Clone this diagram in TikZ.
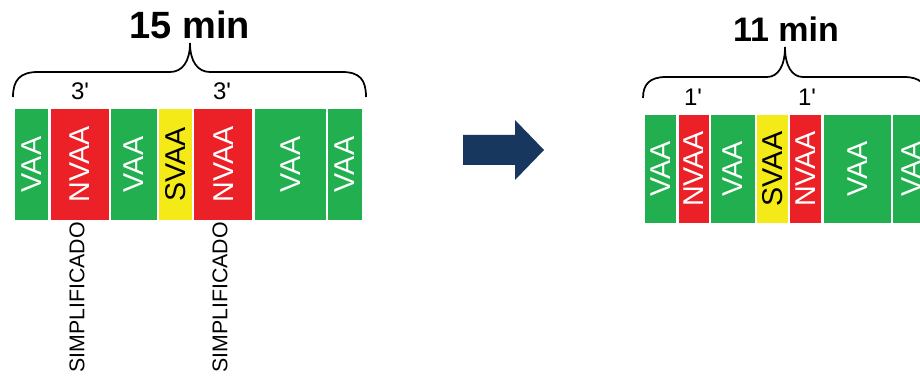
\documentclass[tikz,border=0pt]{standalone}
\usepackage{fontspec}
\setmainfont{Liberation Sans}
\definecolor{vaagreen}{HTML}{21AF4F}
\definecolor{nvaared}{HTML}{EC2027}
\definecolor{svaayellow}{HTML}{F4EA17}
\definecolor{arrownavy}{HTML}{17375E}
\tikzset{
  segbox/.style={rectangle, draw=white, line width=1.6pt, inner sep=0pt, font=\fontsize{21.5}{21.5}\selectfont},
  bracestyle/.style={line width=1.3pt, black},
  minlabel/.style={font=\bfseries\fontsize{28.5}{28.5}\selectfont, inner sep=0pt},
  primelabel/.style={font=\fontsize{18}{18}\selectfont, inner sep=0pt},
  simplabel/.style={font=\fontsize{16}{16}\selectfont, inner sep=0pt, rotate=90, anchor=east},
}
% #1 name, #2 x1, #3 x2, #4 y1, #5 y2, #6 fill, #7 text, #8 text colour
\newcommand\segm[8]{\node[segbox, fill=#6, text=#8, minimum width={(#3-#2)*0.75pt}, minimum height={(#5-#4)*0.75pt}] (#1) at ({(#2+#3)/2},{(#4+#5)/2}) {\rotatebox{90}{#7}};}
\newcommand\prm{\textquotesingle}
\begin{document}
\begin{tikzpicture}[x=0.75pt,y=-0.75pt]
\useasboundingbox (0,0) rectangle (920,377);
\clip (0,0) rectangle (920,377);
% left strip
\segm{la}{14}{49.5}{108}{221}{vaagreen}{VAA}{white}
\segm{lb}{49.5}{110}{108}{221}{nvaared}{NVAA}{white}
\segm{lc}{110}{158}{108}{221}{vaagreen}{VAA}{white}
\segm{ld}{158}{193}{108}{221}{svaayellow}{SVAA}{black}
\segm{le}{193}{253.5}{108}{221}{nvaared}{NVAA}{white}
\segm{lf}{253.5}{327}{108}{221}{vaagreen}{VAA}{white}
\segm{lg}{327}{363}{108}{221}{vaagreen}{VAA}{white}
% right strip
\segm{ra}{644}{677.5}{114}{224}{vaagreen}{VAA}{white}
\segm{rb}{677.5}{710}{114}{224}{nvaared}{NVAA}{white}
\segm{rc}{710}{756}{114}{224}{vaagreen}{VAA}{white}
\segm{rd}{756}{789}{114}{224}{svaayellow}{SVAA}{black}
\segm{re}{789}{822.5}{114}{224}{nvaared}{NVAA}{white}
\segm{rf}{822.5}{892}{114}{224}{vaagreen}{VAA}{white}
\segm{rg}{892}{932}{114}{224}{vaagreen}{VAA}{white}
% labels
\node[minlabel] (t15) at (190,25) {15 min};
\node[minlabel, font=\bfseries\fontsize{25.5}{25.5}\selectfont] (t11) at (786,29) {11 min};
\node[primelabel] (p1) at (80,91) {3\prm};
\node[primelabel] (p2) at (222,91) {3\prm};
\node[primelabel] (p3) at (693,97) {1\prm};
\node[primelabel] (p4) at (807,97) {1\prm};
\node[simplabel] (s1) at (77,222) {SIMPLIFICADO};
\node[simplabel] (s2) at (220,222) {SIMPLIFICADO};
% braces
\coordinate (lbl) at (13,97);
\coordinate (lbt) at (190,43);
\coordinate (lbr) at (366,97);
\draw[bracestyle] (lbl) .. controls (13,80) and (20,72) .. (38,72) -- (170,72)
  .. controls (182,72) and (190,62) .. (lbt)
  .. controls (190,62) and (198,72) .. (210,72) -- (342,72)
  .. controls (360,72) and (366,80) .. (lbr);
\coordinate (rbl) at (643,98);
\coordinate (rbt) at (785,47);
\coordinate (rbr) at (927,98);
\draw[bracestyle] (rbl) .. controls (643,84) and (650,77) .. (666,77) -- (767,77)
  .. controls (778,77) and (785,66) .. (rbt)
  .. controls (785,66) and (792,77) .. (803,77) -- (904,77)
  .. controls (920,77) and (927,84) .. (rbr);
% arrow
\fill[arrownavy] (463,135) -- (515,135) -- (515,120) -- (544,150) -- (515,180) -- (515,165) -- (463,165) -- cycle;
\end{tikzpicture}
\end{document}
